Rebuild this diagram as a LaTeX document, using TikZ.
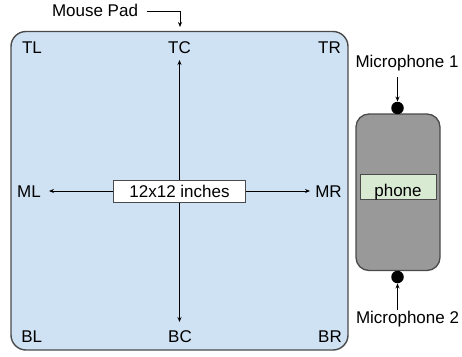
\documentclass[tikz,border=0pt]{standalone}
\usepackage{fontspec}
\setmainfont{Liberation Sans}
\usetikzlibrary{arrows.meta}
\definecolor{padblue}{HTML}{CFE2F3}
\definecolor{edgegray}{HTML}{4A4A4A}
\definecolor{phonegray}{HTML}{999999}
\definecolor{labelgreen}{HTML}{D9EAD3}
\begin{document}
\begin{tikzpicture}[x=1pt,y=-1pt,
  every node/.style={font=\fontsize{17}{20}\selectfont, inner sep=0pt},
  lbl/.style={anchor=base},
  arr/.style={draw=black, line width=0.8pt, -{Stealth[length=5pt,width=4pt]}},
  boxlbl/.style={draw=edgegray, line width=1pt, anchor=center, text depth=0pt}
]
\useasboundingbox (0,0) rectangle (462,356);
% mouse pad
\draw[draw=edgegray, line width=1.4pt, fill=padblue, rounded corners=15pt] (11,31.5) rectangle (348,350);
% phone
\draw[draw=edgegray, line width=1.3pt, fill=phonegray, rounded corners=13pt] (356,114) rectangle (440,270.5);
% labels in pad
\node[lbl] (tl) at (32,53) {TL};
\node[lbl] (tc) at (179.5,53) {TC};
\node[lbl] (tr) at (329.5,53) {TR};
\node[lbl] (ml) at (29,197.3) {ML};
\node[lbl] (mr) at (328.5,197.3) {MR};
\node[lbl] (bl) at (31.7,342.7) {BL};
\node[lbl] (bc) at (180,342.7) {BC};
\node[lbl] (br) at (330,342.7) {BR};
% arrow end points
\coordinate (topend) at (179.5,60);
\coordinate (botend) at (179.5,322);
\coordinate (leftend) at (49,191);
\coordinate (rightend) at (310,191);
\node[boxlbl, fill=white, minimum width=132pt, minimum height=22pt] (size) at (179.5,191) {};
\draw[arr] (size.north) -- (topend);
\draw[arr] (size.south) -- (botend);
\draw[arr] (size.west) -- (leftend);
\draw[arr] (size.east) -- (rightend);
\node[lbl] (sizetext) at (179.5,197.3) {12x12 inches};
% mouse pad label
\node[lbl] (mp) at (95,16.7) {Mouse Pad};
\coordinate (mpstart) at (146.5,11.5);
\coordinate (mpend) at (180,27);
\draw[arr] (mpstart) -| (mpend);
% phone label
\node[boxlbl, fill=labelgreen, minimum width=76pt, minimum height=25pt] (phone) at (398,187) {};
\node[lbl] (phonetext) at (398,196) {phone};
% microphones
\node[circle, fill=black, minimum size=12.5pt] (mic1) at (397.5,108) {};
\node[circle, fill=black, minimum size=12.5pt] (mic2) at (397.5,277) {};
\node[lbl] (m1) at (407,67) {Microphone 1};
\node[lbl] (m2) at (407.5,323.5) {Microphone 2};
\coordinate (m1start) at (397.5,77);
\coordinate (m2start) at (397.5,310);
\draw[arr] (m1start) -- (mic1.north);
\draw[arr] (m2start) -- (mic2.south);
\end{tikzpicture}
\end{document}
